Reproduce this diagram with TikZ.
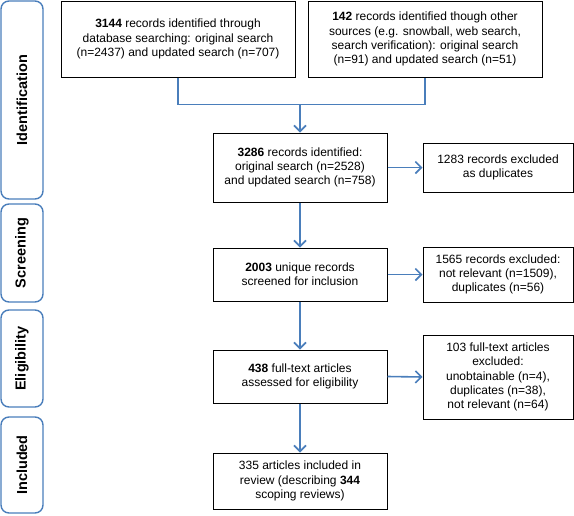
\documentclass[tikz,border=0pt]{standalone}
\usepackage{fontspec}
\setmainfont{Liberation Sans}
\usetikzlibrary{arrows.meta,calc}
\definecolor{flowblue}{HTML}{4A7EBB}
\begin{document}
\begin{tikzpicture}[x=1pt,y=-1pt,
  box/.style={draw=black,line width=1pt,rectangle,align=center,inner sep=2pt,
    font=\fontsize{12}{14.2}\selectfont},
  tab/.style={draw=flowblue,line width=1.4pt,rounded corners=8pt,minimum width=42pt},
  tablabel/.style={rotate=90,font=\fontsize{14.5}{16}\selectfont\bfseries},
  flow/.style={draw=flowblue,line width=1.6pt,-{Straight Barb[length=6pt,width=12pt,line width=1.6pt]}},
  link/.style={draw=flowblue,line width=1.6pt}]
\useasboundingbox (0,0) rectangle (574,515);
% stage tabs
\draw[tab] (1,1) rectangle (43,199);
\node[tablabel] (tid) at (22,100) {Identification};
\draw[tab] (1,204) rectangle (43,302);
\node[tablabel] (tsc) at (22,253) {Screening};
\draw[tab] (1,310) rectangle (43,407);
\node[tablabel] (tel) at (22,358.5) {Eligibility};
\draw[tab] (1,417) rectangle (43,513);
\node[tablabel] (tin) at (22,465) {Included};
% boxes
\node[box,minimum width=234pt,minimum height=76pt] (b1) at (178,39)
  {\textbf{3144} records identified through\\database searching: original search\\(n=2437) and updated search (n=707)};
\node[box,minimum width=234pt,minimum height=76pt] (b2) at (425,39)
  {\textbf{142} records identified though other\\sources (e.g. snowball, web search,\\search verification): original search\\(n=91) and updated search (n=51)};
\node[box,minimum width=174pt,minimum height=69pt] (b3) at (300,167.5)
  {\textbf{3286} records identified:\\original search (n=2528)\\and updated search (n=758)};
\node[box,minimum width=150pt,minimum height=49pt] (e1) at (498,167.5)
  {1283 records excluded\\as duplicates};
\node[box,minimum width=174pt,minimum height=53pt] (b4) at (300,274.5)
  {\textbf{2003} unique records\\screened for inclusion};
\node[box,minimum width=150pt,minimum height=55pt] (e2) at (498,274.5)
  {1565 records excluded:\\not relevant (n=1509),\\duplicates (n=56)};
\node[box,minimum width=174pt,minimum height=53pt] (b5) at (300,376.5)
  {\textbf{438} full-text articles\\assessed for eligibility};
\node[box,minimum width=150pt,minimum height=84pt] (e3) at (498,377)
  {103 full-text articles\\excluded:\\unobtainable (n=4),\\duplicates (n=38),\\not relevant (n=64)};
\node[box,minimum width=174pt,minimum height=56pt] (b6) at (300,481)
  {335 articles included in\\review (describing \textbf{344}\\scoping reviews)};
% connectors
\coordinate (j) at ($(b3.north)+(0,-28)$);
\draw[link] (b1.south) |- (j) -| (b2.south);
\draw[flow] (j) -- (b3.north);
\draw[flow] (b3.east) -- (e1.west);
\draw[flow] (b3.south) -- (b4.north);
\draw[flow] (b4.east) -- (b4.east -| e2.west);
\draw[flow] (b4.south) -- (b5.north);
\draw[flow] (b5.east) -- (e3.west);
\draw[flow] (b5.south) -- (b6.north);
\end{tikzpicture}
\end{document}
